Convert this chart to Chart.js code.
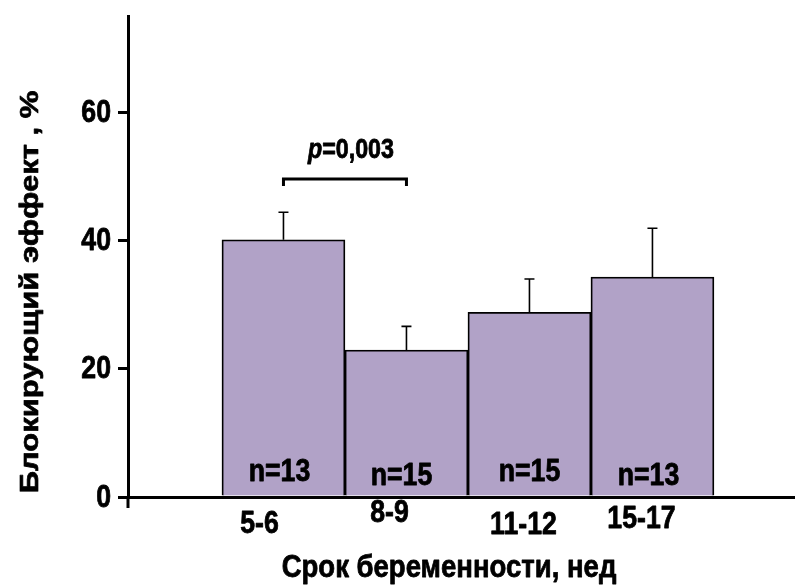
<!DOCTYPE html>
<html>
<head>
<meta charset="utf-8">
<script src="https://cdn.jsdelivr.net/npm/chart.js@4.4.1/dist/chart.umd.min.js"></script>
<style>
  html, body { margin: 0; padding: 0; background: #fff; }
  #wrap { width: 795px; height: 586px; position: relative; }
</style>
</head>
<body>
<div id="wrap"><canvas id="c" width="795" height="586"></canvas></div>
<script>
// Gestational-age groups (weeks), mean blocking effect (%) and its error
const categories = ['5-6', '8-9', '11-12', '15-17'];
const blockingEffect = [40.1, 22.9, 28.8, 34.3];
const errorUp = [4.3, 3.7, 5.2, 7.6];
const groupSizes = ['n=13', 'n=15', 'n=15', 'n=13'];
const yTicks = [0, 20, 40, 60];
const pValueText = '=0,003';
const xTitle = 'Срок беременности, нед';
const yTitle = 'Блокирующий эффект , %';

const FONT = "'Liberation Sans', Arial, sans-serif";
const SQUEEZE = 0.86; // horizontal squeeze applied to all lettering

const positions = categories.map((_, i) => i + 1);

// heavy text with a horizontally compressed face; rotate=true writes bottom-to-top
function squeezedText(ctx, text, x, y, font, align, baseline, rotate) {
  ctx.save();
  ctx.font = font;
  ctx.textAlign = align || 'center';
  ctx.textBaseline = baseline || 'middle';
  ctx.lineWidth = 0.8;
  ctx.lineJoin = 'round';
  ctx.translate(x, y);
  ctx.scale(SQUEEZE, 1);
  if (rotate) ctx.rotate(-Math.PI / 2);
  ctx.fillText(text, 0, 0);
  ctx.strokeText(text, 0, 0);
  ctx.restore();
}

// error whiskers (upward only), group sizes, significance bracket, labels
const annotate = {
  id: 'annotate',
  afterDatasetsDraw(chart) {
    const ctx = chart.ctx;
    const y = chart.scales.y;
    const area = chart.chartArea;
    const meta = chart.getDatasetMeta(0);
    const y0 = y.getPixelForValue(0);
    ctx.save();
    ctx.fillStyle = '#000';
    ctx.strokeStyle = '#000';

    // whiskers
    ctx.lineWidth = 1.6;
    meta.data.forEach((bar, i) => {
      const top = y.getPixelForValue(blockingEffect[i] + errorUp[i]);
      ctx.beginPath();
      ctx.moveTo(bar.x, bar.y);
      ctx.lineTo(bar.x, top);
      ctx.moveTo(bar.x - 5, top);
      ctx.lineTo(bar.x + 5, top);
      ctx.stroke();
    });

    // group sizes inside bars
    const big = 'bold 31px ' + FONT;
    const nShift = [[-4, -25], [-5, -21], [0, -25], [-4, -21]];
    meta.data.forEach((bar, i) => {
      squeezedText(ctx, groupSizes[i], bar.x + nShift[i][0], y0 + nShift[i][1], big);
    });

    // category labels under the axis
    const labShift = [[-24, 27], [-17, 16], [-6, 28], [-11, 22]];
    meta.data.forEach((bar, i) => {
      squeezedText(ctx, categories[i], bar.x + labShift[i][0], y0 + labShift[i][1], big);
    });

    // value-axis labels
    yTicks.forEach(v => {
      squeezedText(ctx, String(v), area.left - 17, y.getPixelForValue(v) + 1, big, 'right');
    });

    // significance bracket between the first two groups
    const bx0 = meta.data[0].x, bx1 = meta.data[1].x;
    const by = y.getPixelForValue(49.6);
    ctx.lineWidth = 3;
    ctx.beginPath();
    ctx.moveTo(bx0, by + 7);
    ctx.lineTo(bx0, by);
    ctx.lineTo(bx1, by);
    ctx.lineTo(bx1, by + 7);
    ctx.stroke();

    const pItalic = 'italic bold 27px ' + FONT;
    const pBold = 'bold 27px ' + FONT;
    ctx.font = pItalic;
    const wp = ctx.measureText('p').width * SQUEEZE;
    ctx.font = pBold;
    const wr = ctx.measureText(pValueText).width * SQUEEZE;
    const start = (bx0 + bx1) / 2 + 6 - (wp + wr) / 2;
    squeezedText(ctx, 'p', start, by - 21, pItalic, 'left', 'alphabetic');
    squeezedText(ctx, pValueText, start + wp, by - 21, pBold, 'left', 'alphabetic');

    // axis titles
    squeezedText(ctx, xTitle, 449, 568, 'bold 32px ' + FONT);
    squeezedText(ctx, yTitle, 31, 292, 'bold 31px ' + FONT, 'center', 'middle', true);

    // value axis continues a little below the origin
    ctx.lineWidth = 3;
    ctx.beginPath();
    ctx.moveTo(area.left, area.bottom);
    ctx.lineTo(area.left, area.bottom + 11);
    ctx.stroke();

    ctx.restore();
  }
};

new Chart(document.getElementById('c'), {
  type: 'bar',
  data: {
    datasets: [{
      data: positions.map((p, i) => ({ x: p, y: blockingEffect[i] })),
      backgroundColor: '#B1A2C7',
      borderColor: '#000',
      borderWidth: 1.8,
      borderSkipped: 'bottom',
      barPercentage: 1,
      categoryPercentage: 1
    }]
  },
  options: {
    responsive: false,
    animation: false,
    layout: { padding: { top: 16, right: 0, left: 0, bottom: 0 } },
    plugins: { legend: { display: false }, tooltip: { enabled: false } },
    scales: {
      x: {
        type: 'linear',
        offset: false,
        min: -0.264,
        max: 5.159,
        afterBuildTicks: s => { s.ticks = positions.map(v => ({ value: v })); },
        afterFit: s => { s.height = 89; },
        grid: { display: false },
        ticks: { display: false },
        border: { color: '#000', width: 3 }
      },
      y: {
        min: 0,
        max: 75,
        afterBuildTicks: s => { s.ticks = yTicks.map(v => ({ value: v })); },
        afterFit: s => { s.width = 128; },
        grid: { drawOnChartArea: false, drawTicks: true, tickLength: 10, color: '#000', lineWidth: 3 },
        border: { color: '#000', width: 3 },
        ticks: { display: false }
      }
    }
  },
  plugins: [annotate]
});
</script>
</body>
</html>
